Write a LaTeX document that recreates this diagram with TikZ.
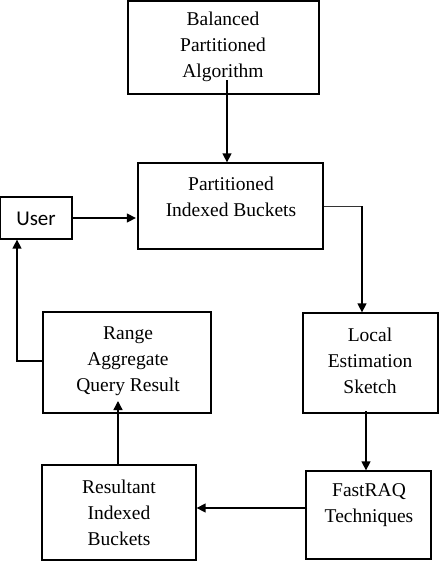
\documentclass[tikz,border=0pt]{standalone}
\usepackage{fontspec}
\setmainfont{Liberation Serif}
\newfontfamily\boxfont{Liberation Serif}
\newfontfamily\userfont{Carlito}
\usetikzlibrary{arrows.meta,calc}
\begin{document}
\begin{tikzpicture}[x=1pt,y=-1pt,
  box/.style={draw=black,line width=1.3pt,rectangle,inner sep=0pt},
  txt/.style={align=center,inner sep=0pt,font=\boxfont\fontsize{19.5}{26}\selectfont},
  arr/.style={draw=black,line width=1.4pt,-{Triangle[length=9pt,width=9pt]}}]
\useasboundingbox (0,0) rectangle (443,571);
% boxes
\node[box,minimum width=191pt,minimum height=93pt] (bpa) at (223.5,47.5) {};
\node[box,minimum width=185pt,minimum height=86pt] (pib) at (230.5,206) {};
\node[box,minimum width=72pt,minimum height=42pt] (user) at (36,218) {};
\node[box,minimum width=135pt,minimum height=100pt] (les) at (370.5,363) {};
\node[box,minimum width=125pt,minimum height=88pt] (fr) at (368.5,515) {};
\node[box,minimum width=154pt,minimum height=95pt] (rib) at (119,512.5) {};
\node[box,minimum width=168pt,minimum height=101pt] (raq) at (127,362.5) {};
% texts
\node[txt] (bpat) at (223,47) {Balanced\\Partitioned\\Algorithm};
\node[txt] (pibt) at (231,197) {Partitioned\\Indexed Buckets};
\node[inner sep=0pt,font=\userfont\fontsize{21}{24}\selectfont] (usert) at (36,219) {User};
\node[txt] (lest) at (370,361) {Local\\Estimation\\Sketch};
\node[txt] (frt) at (369,505.5) {FastRAQ\\Techniques};
\node[txt] (ribt) at (119,513) {Resultant\\Indexed\\Buckets};
\node[txt] (raqt) at (128,361) {Range\\Aggregate\\Query Result};
% connectors
\coordinate (a1) at (227,80);
\draw[arr] (a1) -- (a1 |- pib.north);
\draw[arr,shorten >=1.5pt] (user.east) -- (user.east -| pib.west);
\coordinate (c1) at (362,206);
\draw[draw=black!80,line width=0.9pt] (pib.east) -- (c1);
\draw[arr] (c1) -- (c1 |- les.north);
\coordinate (c2) at (366,411);
\draw[arr] (c2) -- (c2 |- fr.north);
\coordinate (c3) at (307,508);
\draw[arr] (c3) -- (c3 -| rib.east);
\coordinate (c4) at (118,465);
\draw[arr] (c4) -- (118,401);
\coordinate (c5) at (17,361);
\draw[arr] (raq.west |- c5) -- (c5) -- (c5 |- user.south);
\end{tikzpicture}
\end{document}
